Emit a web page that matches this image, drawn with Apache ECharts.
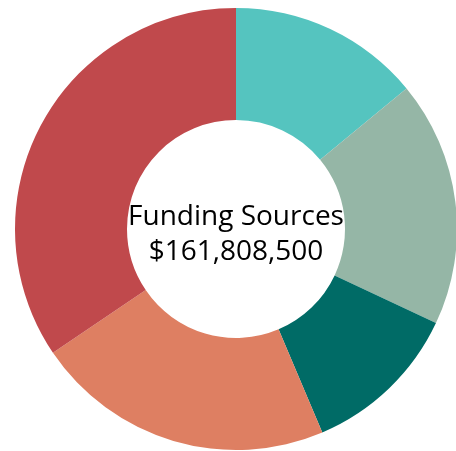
<!DOCTYPE html>
<html>
<head>
    <meta charset="UTF-8"/>
    <title>Funding Sources</title>
    <style>
        html, body{
            margin: 0;
            background: #fff;
        }
    </style>
    <script src="https://cdn.jsdelivr.net/npm/echarts@6/dist/echarts.min.js"></script>
</head>
<body>
<div id="container" style="width: 456px;height: 451px;"></div>

<script>
  // slices, clockwise from 12 o'clock
  var sources = ['Source A', 'Source B', 'Source C', 'Source D', 'Source E'];
  var amounts = [22700000, 29080000, 18790000, 35470000, 55768500];
  var colors = ['#55c4bf', '#95b6a6', '#006b66', '#de7f62', '#c0494c'];
  var centerTitle = 'Funding Sources';

  var total = amounts.reduce(function (a, b) { return a + b; }, 0);
  var totalText = '$' + total.toLocaleString('en-US');

  var data = sources.map(function (name, i) {
      return { name: name, value: amounts[i], itemStyle: { color: colors[i] } };
  });

  var myChart = echarts.init(document.getElementById('container'));
  var option = {
      animation: false,
      series: [{
          type: 'pie',
          center: [236, 229],
          radius: [109, 221],
          startAngle: 90,
          clockwise: true,
          label: { show: false },
          labelLine: { show: false },
          emphasis: { disabled: true },
          itemStyle: { borderWidth: 0 },
          data: data
      }],
      graphic: [{
          type: 'text',
          x: 236,
          y: 217,
          style: {
              text: centerTitle,
              fill: '#000',
              font: '28px "Open Sans"',
              align: 'center',
              verticalAlign: 'middle'
          }
      }, {
          type: 'text',
          x: 236,
          y: 252,
          style: {
              text: totalText,
              fill: '#000',
              font: '28px "Open Sans"',
              align: 'center',
              verticalAlign: 'middle'
          }
      }]
  };
  myChart.setOption(option);
</script>

</body>
</html>
